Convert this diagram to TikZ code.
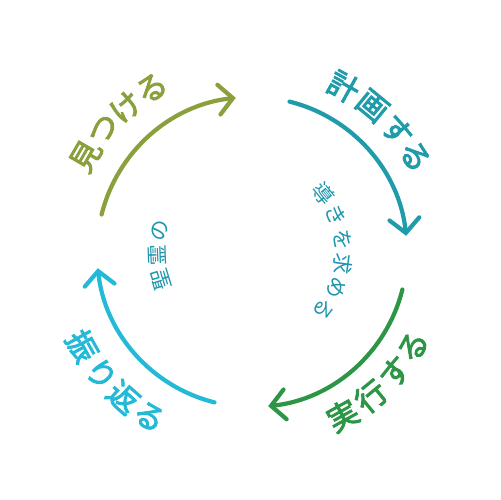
\documentclass[tikz,border=0pt]{standalone}
\usepackage{fontspec}
\newfontfamily\jpfont{Noto Sans CJK JP}
\newfontfamily\jpmid{Noto Sans CJK JP}[FakeBold=3]
\usetikzlibrary{arrows.meta}

\definecolor{findcol}{HTML}{8AA03C}
\definecolor{plancol}{HTML}{1F9BAA}
\definecolor{docol}{HTML}{2D9646}
\definecolor{lookcol}{HTML}{23B9D7}
\definecolor{innercol}{HTML}{1E96AC}

\begin{document}
\begin{tikzpicture}[x=0.02cm,y=0.02cm]
\tikzstyle{cycle}=[line width=2.4pt,line cap=round,-{Straight Barb[length=8pt,width=17pt,line cap=round]}]
\tikzstyle{lbl}=[inner sep=0pt,font=\jpmid\fontsize{17.5}{17.5}\selectfont]
\tikzstyle{inner}=[inner sep=0pt,text=innercol,font=\jpfont\fontsize{12}{12}\selectfont]

\useasboundingbox (-252,-248) rectangle (248,252);

% arcs of the cycle
\coordinate (s1) at (166:155);
\coordinate (s2) at (76:155);
\coordinate (s3) at (-14:155);
\coordinate (s4) at (-104:155);
\draw [cycle,findcol] (s1) arc[start angle=166,end angle=96,radius=155];
\draw [cycle,plancol] (s2) arc[start angle=76,end angle=6,radius=155];
\draw [cycle,docol] (s3) arc[start angle=-14,end angle=-84,radius=155];
\draw [cycle,lookcol] (s4) arc[start angle=-104,end angle=-174,radius=155];

% outer labels
\foreach \ch/\a [count=\i] in {見/150,つ/140.5,け/131,る/121.5}
  \node [lbl,text=findcol,rotate=\a-90] (find\i) at (\a:192) {\ch};
\foreach \ch/\a [count=\i] in {計/61,画/50.5,す/40,る/30.5}
  \node [lbl,text=plancol,rotate=\a-90] (plan\i) at (\a:189) {\ch};
\foreach \ch/\a [count=\i] in {実/-61,行/-50.5,す/-40,る/-30.5}
  \node [lbl,text=docol,rotate=\a+90] (do\i) at (\a:187) {\ch};
\foreach \ch/\a [count=\i] in {振/-151,り/-141,返/-131.5,る/-122}
  \node [lbl,text=lookcol,rotate=\a+90] (look\i) at (\a:194) {\ch};

% inner words
\foreach \ch/\a [count=\i] in {聖/197,霊/182,の/167}
  \node [inner,rotate=\a-90] (spirit\i) at (\a:95) {\ch};
\foreach \ch/\a [count=\i] in {導/39,き/23.4,を/7.8,求/-7.8,め/-23.4,る/-39}
  \node [inner,rotate=\a-90] (seek\i) at (\a:92) {\ch};

\end{tikzpicture}
\end{document}
